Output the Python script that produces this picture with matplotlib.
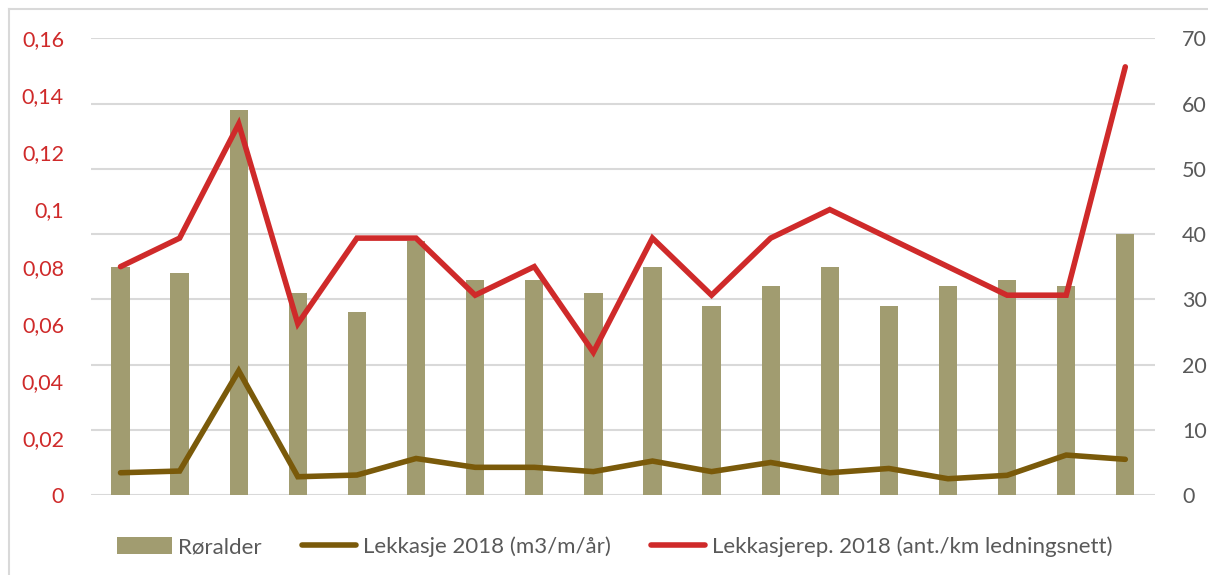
import numpy as np
import matplotlib.pyplot as plt
from matplotlib.lines import Line2D

# data
roralder = [35, 34, 59, 31, 28, 39, 33, 33, 31, 35, 29, 32, 35, 29, 32, 33, 32, 40]
lekkasje = [0.0078, 0.0084, 0.0435, 0.0064, 0.0070, 0.0128, 0.0097, 0.0097, 0.0082,
            0.0119, 0.0082, 0.0114, 0.0078, 0.0093, 0.0057, 0.0069, 0.0140, 0.0125]
lekkasjerep = [0.08, 0.09, 0.13, 0.06, 0.09, 0.09, 0.07, 0.08, 0.05,
               0.09, 0.07, 0.09, 0.10, 0.09, 0.08, 0.07, 0.07, 0.15]
left_ticks = [0, 0.02, 0.04, 0.06, 0.08, 0.1, 0.12, 0.14, 0.16]
left_labels = ['0', '0,02', '0,04', '0,06', '0,08', '0,1', '0,12', '0,14', '0,16']
right_ticks = [0, 10, 20, 30, 40, 50, 60, 70]

bar_col = '#a19c70'
brown = '#7a5a0a'
red = '#cf2a2a'
grey_txt = '#595959'

plt.rcParams['font.family'] = ['Lato', 'DejaVu Sans']

fig = plt.figure(figsize=(12.08, 5.75), dpi=100)
ax = fig.add_axes([0.0753, 0.1391, 0.8807, 0.7943])
x = np.arange(len(roralder))

# bars + gridlines on the right-hand scale
b = ax.bar(x, roralder, width=0.31, color=bar_col, zorder=2, label='Røralder')
ax.set_ylim(0, 70)
ax.set_yticks(right_ticks)
ax.grid(axis='y', color='#d9d9d9', linewidth=1.5, zorder=0)
ax.set_xlim(-0.5, len(x) - 0.5)
ax.set_xticks([])
for s in ax.spines.values():
    s.set_visible(False)

# lines on the left-hand scale
ax2 = ax.twinx()
l1, = ax2.plot(x, lekkasje, color=brown, lw=4.0, solid_capstyle='round',
               solid_joinstyle='miter', label='Lekkasje 2018 (m3/m/år)')
l2, = ax2.plot(x, lekkasjerep, color=red, lw=4.0, solid_capstyle='round',
               solid_joinstyle='miter', label='Lekkasjerep. 2018 (ant./km ledningsnett)')
ax2.set_ylim(0, 0.16)
ax2.set_yticks(left_ticks)
ax2.set_yticklabels(left_labels)
for s in ax2.spines.values():
    s.set_visible(False)

# swap sides: bars' scale on the right, lines' scale on the left
ax.yaxis.tick_right()
ax2.yaxis.tick_left()
ax.tick_params(axis='y', which='both', left=False, right=False, labelleft=False,
               labelright=True, pad=16, labelsize=15.5, labelcolor=grey_txt)
ax2.tick_params(axis='y', which='both', left=False, right=False, labelleft=True,
                labelright=False, pad=16, labelsize=15.5, labelcolor=red)

leg = fig.legend([b, l1, l2], [b.get_label(), l1.get_label(), l2.get_label()],
                 loc='center', bbox_to_anchor=(0.509, 0.049), ncol=3, frameon=False,
                 fontsize=16, handlelength=2.45, handletextpad=0.3, columnspacing=1.8,
                 handleheight=0.8)
for t in leg.get_texts():
    t.set_color(grey_txt)

# light border of the chart area
fig.add_artist(Line2D([9 / 1208, 1.0], [1 - 9 / 575, 1 - 9 / 575], color='#d9d9d9', lw=1.5))
fig.add_artist(Line2D([9 / 1208, 9 / 1208], [0.0, 1 - 9 / 575], color='#d9d9d9', lw=1.5))

fig.savefig('out.png', dpi=100)
